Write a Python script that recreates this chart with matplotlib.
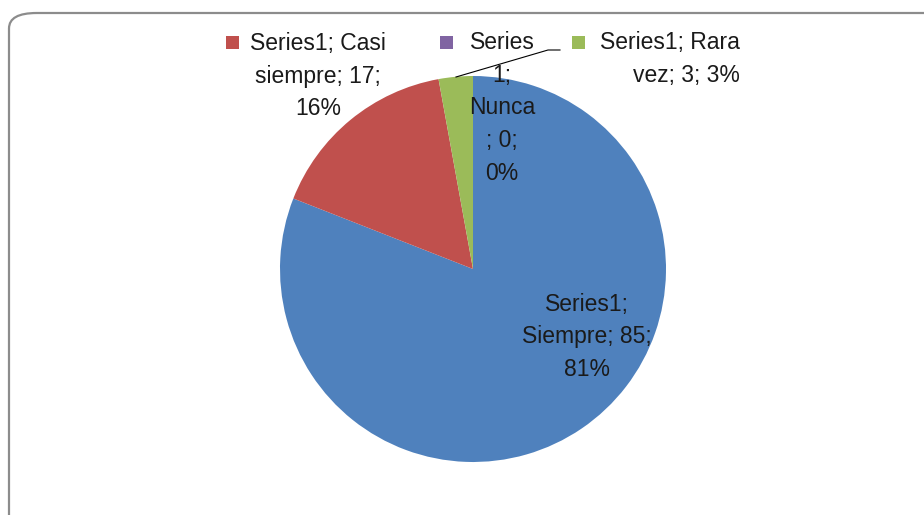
import matplotlib
matplotlib.use('Agg')
import matplotlib.pyplot as plt
from matplotlib.patches import FancyBboxPatch, Rectangle

plt.rcParams['font.family'] = ['Liberation Sans', 'DejaVu Sans']

# data
series_name = 'Series1'
categories = ['Siempre', 'Casi siempre', 'Nunca', 'Rara vez']
values = [85, 17, 0, 3]
colors = ['#4F81BD', '#C0504D', '#8064A2', '#9BBB59']

total = sum(values)
pcts = [round(v / total * 100) for v in values]

W, H = 924, 515
fig = plt.figure(figsize=(W / 100, H / 100), dpi=100)

# rounded frame, runs off the right and bottom edge
frame = FancyBboxPatch((9 / W, -40 / H), (W + 30) / W, (H - 13 + 40) / H,
                       boxstyle='round,pad=0,rounding_size=0.03',
                       transform=fig.transFigure, facecolor='none',
                       edgecolor='#8c8c8c', linewidth=1.6, zorder=-1)
fig.patches.append(frame)

ax = fig.add_axes([280 / W, 53 / H, 386 / W, 386 / H])
ax.pie(values, colors=colors, startangle=90, counterclock=False, radius=1,
       wedgeprops=dict(linewidth=0))
ax.set_xlim(-1, 1)
ax.set_ylim(-1, 1)
ax.set_aspect('equal')
ax.axis('off')

fs = 16.5
ls = 1.55
tc = '#1a1a1a'
def px(x, y):
    return x / W, 1 - y / H

# Siempre (inside)
i = 0
fig.text(*px(587, 337), f'{series_name};\n{categories[i]}; {values[i]};\n{pcts[i]}%',
         ha='center', va='center', fontsize=fs, linespacing=ls, color=tc)

# Casi siempre
i = 1
fig.text(*px(318, 76), f'{series_name}; Casi\nsiempre; {values[i]};\n{pcts[i]}%',
         ha='center', va='center', fontsize=fs, linespacing=ls, color=tc)

# Nunca
i = 2
fig.text(*px(502, 108), f'Series\n1;\n{categories[i]}\n; {values[i]};\n{pcts[i]}%',
         ha='center', va='center', fontsize=fs, linespacing=ls, color=tc)

# Rara vez
i = 3
fig.text(*px(740, 59), f'{series_name}; Rara\nvez; {values[i]}; {pcts[i]}%',
         ha='right', va='center', fontsize=fs, linespacing=ls, color=tc)

# legend keys in labels
for (kx, ky), c in zip([(226, 36), (440, 36), (572, 36)], colors[1:]):
    fig.patches.append(Rectangle((kx / W, 1 - (ky + 13) / H), 13 / W, 13 / H,
                                 transform=fig.transFigure, facecolor=c,
                                 edgecolor='none'))

# leader line for Rara vez
fig.add_artist(plt.Line2D([456 / W, 548 / W, 560 / W],
                          [1 - 77 / H, 1 - 50 / H, 1 - 50 / H],
                          transform=fig.transFigure, color='black', linewidth=0.8))

fig.savefig('out.png', dpi=100)
